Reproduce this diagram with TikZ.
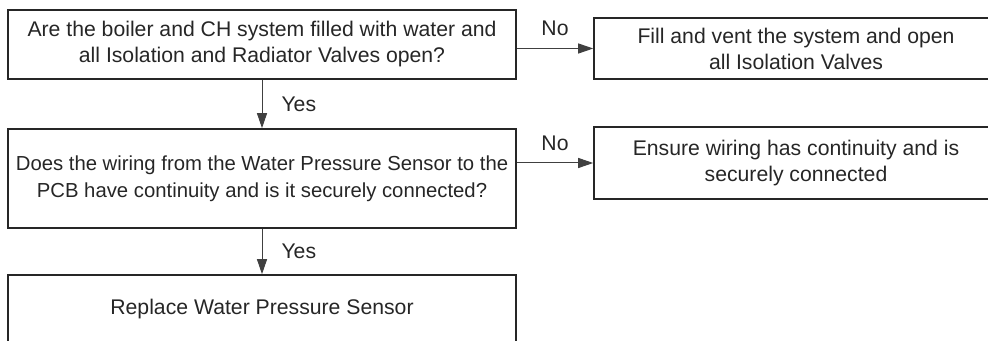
\documentclass[tikz,border=0pt]{standalone}
\usepackage{fontspec}
\setmainfont{Liberation Sans}
\usetikzlibrary{arrows.meta}

\begin{document}
\begin{tikzpicture}[x=0.5pt, y=-0.5pt, >={Triangle[length=7.5pt,width=5pt]},
  font=\fontsize{10.6}{13}\selectfont,
  box/.style={draw=black!85, line width=0.8pt, align=center, text=black!85, inner sep=0pt},
  flow/.style={->, draw=black!75, line width=0.5pt},
  lbl/.style={text=black!85, inner sep=0pt}]
  \clip (0,0) rectangle (988,341);
  % questions
  \node[box, minimum width=254pt, minimum height=34.5pt] (fillq) at (262,44.5)
    {Are the boiler and CH system filled with water and\\all Isolation and Radiator Valves open?};
  \node[box, minimum width=254pt, minimum height=49.5pt, font=\fontsize{10.15}{13.5}\selectfont] (wireq) at (262,178.5)
    {Does the wiring from the Water Pressure Sensor to the\\PCB have continuity and is it securely connected?};
  \node[box, minimum width=254pt, minimum height=34pt] (sensor) at (262,309)
    {Replace Water Pressure Sensor};
  % actions
  \node[box, minimum width=202pt, minimum height=30.5pt] (fillbox) at (796,48.5)
    {Fill and vent the system and open\\all Isolation Valves};
  \node[box, minimum width=202pt, minimum height=36pt] (wirebox) at (796,163)
    {Ensure wiring has continuity and is\\securely connected};
  % arrows
  \draw[flow] (fillq.east |- fillbox.west) -- node[lbl, above=6pt]{No} (fillbox.west);
  \draw[flow] (wireq.east |- wirebox.west) -- node[lbl, above=6pt]{No} (wirebox.west);
  \draw[flow] (fillq.south) -- node[lbl, right=9.5pt]{Yes} (wireq.north);
  \draw[flow] (wireq.south) -- node[lbl, right=9.5pt]{Yes} (sensor.north);
\end{tikzpicture}
\end{document}
